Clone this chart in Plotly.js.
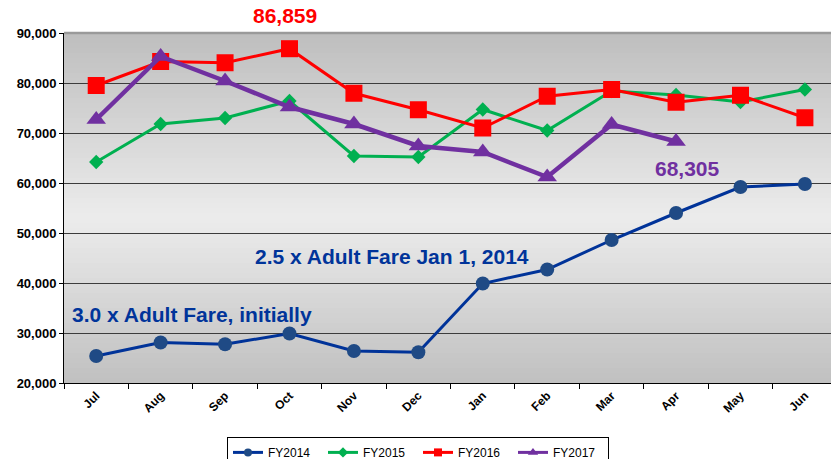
<!DOCTYPE html>
<html>
<head>
<meta charset="utf-8">
<script src="https://cdn.plot.ly/plotly-3.0.1.min.js"></script>
<style>html,body{margin:0;padding:0;background:#fff;}#chart{width:831px;height:459px;}</style>
</head>
<body>
<div id="chart"></div>
<script>
const months = ["Jul","Aug","Sep","Oct","Nov","Dec","Jan","Feb","Mar","Apr","May","Jun"];
const fy2014 = [25400, 28100, 27750, 29900, 26400, 26150, 39900, 42700, 48600, 54000, 59200, 59800];
const fy2015 = [64200, 71800, 73000, 76400, 65400, 65200, 74700, 70500, 78400, 77600, 76200, 78700];
const fy2016 = [79500, 84300, 84050, 86859, 77950, 74650, 71000, 77350, 78700, 76150, 77550, 73050];
const fy2017 = [72700, 85300, 80400, 75200, 71800, 67400, 66200, 61200, 71700, 68305];
const seriesNames = ["FY2014","FY2015","FY2016","FY2017"];
const yTicks = [20000,30000,40000,50000,60000,70000,80000,90000];
const yTickText = ["20,000","30,000","40,000","50,000","60,000","70,000","80,000","90,000"];

const FONT = "Arial, 'Liberation Sans', sans-serif";
const colors = {FY2014:{line:"#003399",mk:"#1f4a85"}, FY2015:{line:"#00b050",mk:"#00b050"}, FY2016:{line:"#ff0000",mk:"#ff0000"}, FY2017:{line:"#7030a0",mk:"#7030a0"}};

function tr(name, y, sym, size, lw, legendSize){
  const c = colors[name];
  return [{
    type:"scatter", mode:"lines+markers", name:name, x:months.slice(0,y.length), y:y,
    line:{color:c.line, width:lw}, marker:{symbol:sym, size:size, color:c.mk, line:{width:0}},
    showlegend:false, hoverinfo:"skip"
  },{
    type:"scatter", mode:"lines+markers", name:name, x:[months[0]], y:[null],
    line:{color:c.line, width:3}, marker:{symbol:sym, size:legendSize, color:c.mk},
    showlegend:true
  }];
}
const data = [].concat(
  tr(seriesNames[0], fy2014, "circle", 14, 3, 8),
  tr(seriesNames[1], fy2015, "diamond", 11, 3, 8),
  tr(seriesNames[2], fy2016, "square", 17, 3, 8),
  tr(seriesNames[3], fy2017, "triangle-up", 17, 4.5, 9)
);

// gradient background strips
const shapes = [];
const N = 70;
for (let i = 0; i < N; i++) {
  const y0 = i / N, y1 = (i + 1) / N, t = (y0 + y1) / 2;
  const peak = 0.47;
  let g;
  if (t < peak) g = 192 + (236 - 192) * (t / peak);
  else g = 236 - (236 - 190) * ((t - peak) / (1 - peak));
  g = Math.round(g);
  shapes.push({type:"rect", xref:"paper", yref:"paper", x0:0, x1:1, y0:y0, y1:y1+0.002,
    fillcolor:`rgb(${g},${g},${g})`, line:{width:0}, layer:"below"});
}
shapes.push({type:"line", xref:"paper", yref:"paper", x0:0, x1:1, y0:1, y1:1, line:{color:"#9a9a9a", width:2.5}});

const annFont = (c) => ({family:FONT, size:21, color:c});
const layout = {
  width:831, height:459,
  margin:{l:64, r:0, t:33, b:76, pad:0, autoexpand:false},
  paper_bgcolor:"#ffffff", plot_bgcolor:"rgba(0,0,0,0)",
  font:{family:FONT, color:"#000"},
  showlegend:true,
  legend:{orientation:"h", x:0.2125, xanchor:"left", y:-0.154, yanchor:"top",
    bordercolor:"#000", borderwidth:1, bgcolor:"#fff",
    font:{family:FONT, size:12, color:"#000"}, entrywidth:50, entrywidthmode:"pixels",
    itemwidth:30, tracegroupgap:0},
  xaxis:{type:"category", categoryorder:"array", categoryarray:months, range:[-0.5, 11.405],
    showgrid:false, zeroline:false, showline:true, linecolor:"#000", linewidth:1,
    ticks:"outside", ticklen:5, tickcolor:"#000", tickson:"boundaries", tickangle:-45,
    tickfont:{family:FONT, size:12, color:"#000", weight:"bold"}, fixedrange:true},
  yaxis:{range:[20000,90000], tickvals:yTicks, ticktext:yTickText,
    showgrid:true, gridcolor:"#3c3c3c", gridwidth:1, zeroline:false,
    showline:true, linecolor:"#000", linewidth:1, ticks:"outside", ticklen:4, tickcolor:"#000",
    tickfont:{family:FONT, size:13, color:"#000", weight:"bold"}, fixedrange:true},
  shapes:shapes,
  annotations:[
    {xref:"paper", yref:"paper", x:0.288, y:1.049, text:"<b>86,859</b>", showarrow:false, font:annFont("#ff0000"), xanchor:"center", yanchor:"middle"},
    {xref:"paper", yref:"y", x:0.813, y:62900, text:"<b>68,305</b>", showarrow:false, font:annFont("#7030a0"), xanchor:"center", yanchor:"middle"},
    {xref:"paper", yref:"y", x:0.2464, y:45400, text:"<b>2.5 x Adult Fare Jan 1, 2014</b>", showarrow:false, font:annFont("#00349a"), xanchor:"left", yanchor:"middle"},
    {xref:"paper", yref:"y", x:0.008, y:33800, text:"<b>3.0 x Adult Fare, initially</b>", showarrow:false, font:annFont("#00349a"), xanchor:"left", yanchor:"middle"}
  ]
};
Plotly.newPlot("chart", data, layout, {displayModeBar:false, staticPlot:true});
</script>
</body>
</html>
